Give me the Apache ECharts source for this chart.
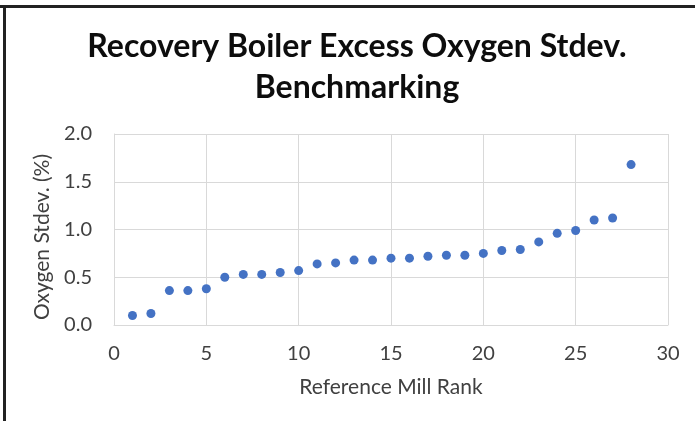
<!DOCTYPE html>
<html>
<head>
<meta charset="utf-8">
<script src="https://cdn.jsdelivr.net/npm/echarts@6/dist/echarts.min.js"></script>
<style>
html,body{margin:0;padding:0;background:#fff;}
#chart{width:695px;height:421px;}
</style>
</head>
<body>
<div id="chart"></div>
<script>
const titleText = "Recovery Boiler Excess Oxygen Stdev.\nBenchmarking";
const xAxisName = "Reference Mill Rank";
const yAxisName = "Oxygen Stdev. (%)";
const ranks = [1,2,3,4,5,6,7,8,9,10,11,12,13,14,15,16,17,18,19,20,21,22,23,24,25,26,27,28];
const stdevValues = [0.10,0.12,0.36,0.36,0.38,0.50,0.53,0.53,0.55,0.57,0.64,0.65,0.68,0.68,0.70,0.70,0.72,0.73,0.73,0.75,0.78,0.79,0.87,0.96,0.99,1.10,1.12,1.68];

const chart = echarts.init(document.getElementById('chart'), null, {renderer:'canvas'});
const fontFam = 'Lato';
chart.setOption({
  animation:false,
  backgroundColor:'#ffffff',
  title:{
    text:titleText,
    left:352,
    textAlign:'center',
    top:21,
    textStyle:{fontFamily:fontFam,fontWeight:'bold',fontSize:32,color:'#0d0d0d',lineHeight:41}
  },
  graphic:[
    {type:'rect',shape:{x:0,y:5,width:695,height:3},style:{fill:'#222'}},
    {type:'rect',shape:{x:3,y:5,width:3,height:416},style:{fill:'#222'}}
  ],
  grid:{left:114,right:27,top:134,bottom:96},
  xAxis:{
    type:'value',min:0,max:30,interval:5,
    name:xAxisName,nameLocation:'middle',nameGap:52,
    nameTextStyle:{fontFamily:fontFam,fontSize:21,color:'#404040'},
    axisLine:{show:true,lineStyle:{color:'#d9d9d9'}},
    axisTick:{show:false},
    axisLabel:{fontFamily:fontFam,fontSize:20,color:'#404040',margin:19},
    splitLine:{show:true,lineStyle:{color:'#d9d9d9',width:1}}
  },
  yAxis:{
    type:'value',min:0,max:2,interval:0.5,
    name:yAxisName,nameLocation:'middle',nameGap:60,nameRotate:90,
    nameTextStyle:{fontFamily:fontFam,fontSize:21,color:'#404040',padding:[0,15,0,0]},
    axisLine:{show:true,lineStyle:{color:'#d9d9d9'}},
    axisTick:{show:false},
    axisLabel:{fontFamily:fontFam,fontSize:20,color:'#404040',margin:22,formatter:v=>v.toFixed(1)},
    splitLine:{show:true,lineStyle:{color:'#d9d9d9',width:1}}
  },
  series:[{
    type:'scatter',
    data:ranks.map((r,i)=>[r,stdevValues[i]]),
    symbol:'circle',symbolSize:9,
    itemStyle:{color:'#4472C4',opacity:1}
  }]
});
</script>
</body>
</html>
